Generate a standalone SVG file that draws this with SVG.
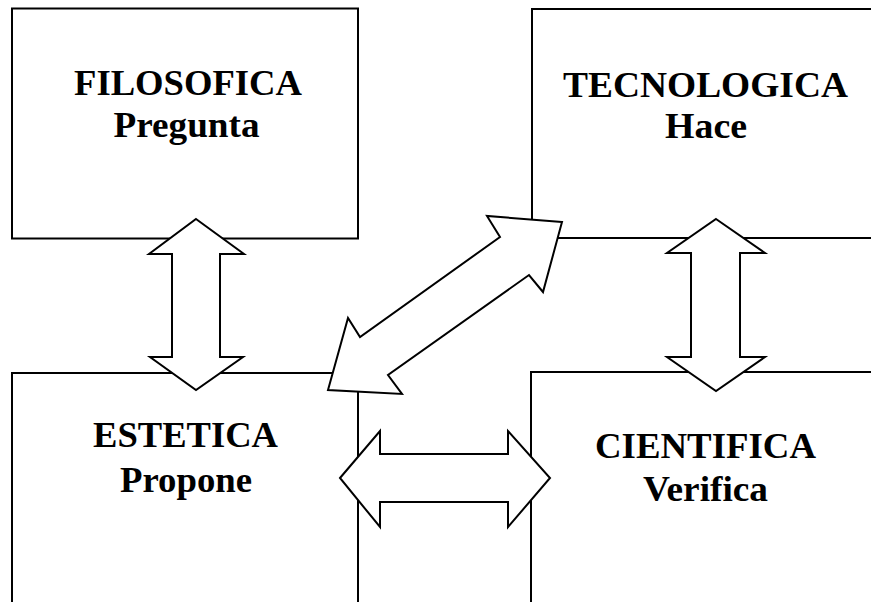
<svg xmlns="http://www.w3.org/2000/svg" width="871" height="602" viewBox="0 0 871 602">
<style>
.box{fill:#fff;stroke:#000;stroke-width:2}
.arr{fill:#fff;stroke:#000;stroke-width:2;stroke-linejoin:miter}
.t1{font-family:"Liberation Serif","Times New Roman",serif;font-weight:bold;font-size:35px;fill:#000;text-anchor:middle}
.t2{font-family:"Liberation Serif","Times New Roman",serif;font-weight:bold;font-size:36px;fill:#000;text-anchor:middle}
</style>
<rect width="871" height="602" fill="#fff"/>
<g id="filosofica">
<rect class="box" x="12" y="8.5" width="346" height="230"/>
<text class="t1" x="188" y="95" textLength="228" lengthAdjust="spacingAndGlyphs">FILOSOFICA</text>
<text class="t2" x="186.5" y="137" textLength="146" lengthAdjust="spacingAndGlyphs">Pregunta</text>
</g>
<g id="tecnologica">
<rect class="box" x="532" y="9" width="360" height="229"/>
<text class="t1" x="705.5" y="97" textLength="285" lengthAdjust="spacingAndGlyphs">TECNOLOGICA</text>
<text class="t2" x="706" y="138" textLength="82" lengthAdjust="spacingAndGlyphs">Hace</text>
</g>
<g id="estetica">
<rect class="box" x="12" y="373" width="346" height="250"/>
<text class="t1" x="185.5" y="447" textLength="185" lengthAdjust="spacingAndGlyphs">ESTETICA</text>
<text class="t2" x="186" y="492" textLength="132" lengthAdjust="spacingAndGlyphs">Propone</text>
</g>
<g id="cientifica">
<rect class="box" x="531" y="372" width="360" height="250"/>
<text class="t1" x="705.5" y="458" textLength="221" lengthAdjust="spacingAndGlyphs">CIENTIFICA</text>
<text class="t2" x="705.5" y="501" textLength="125" lengthAdjust="spacingAndGlyphs">Verifica</text>
</g>
<g id="connectors">
<polygon class="arr" points="196,219 244,254 220,254 220,357 243,357 196,390 150,357 172,357 172,254 149,254"/>
<polygon class="arr" points="716,219 765,253 740,253 740,357 765,357 716,391 667,357 691,357 691,253 667,253"/>
<polygon class="arr" points="340,478 380,431 380,454 508,454 508,431 550,478 508,527 508,502 380,502 380,527"/>
<polygon class="arr" points="562,222 487,216 500,237 360,337 348,318 328,390 402,394 388,375 529,275 543,292"/>
</g>
</svg>
